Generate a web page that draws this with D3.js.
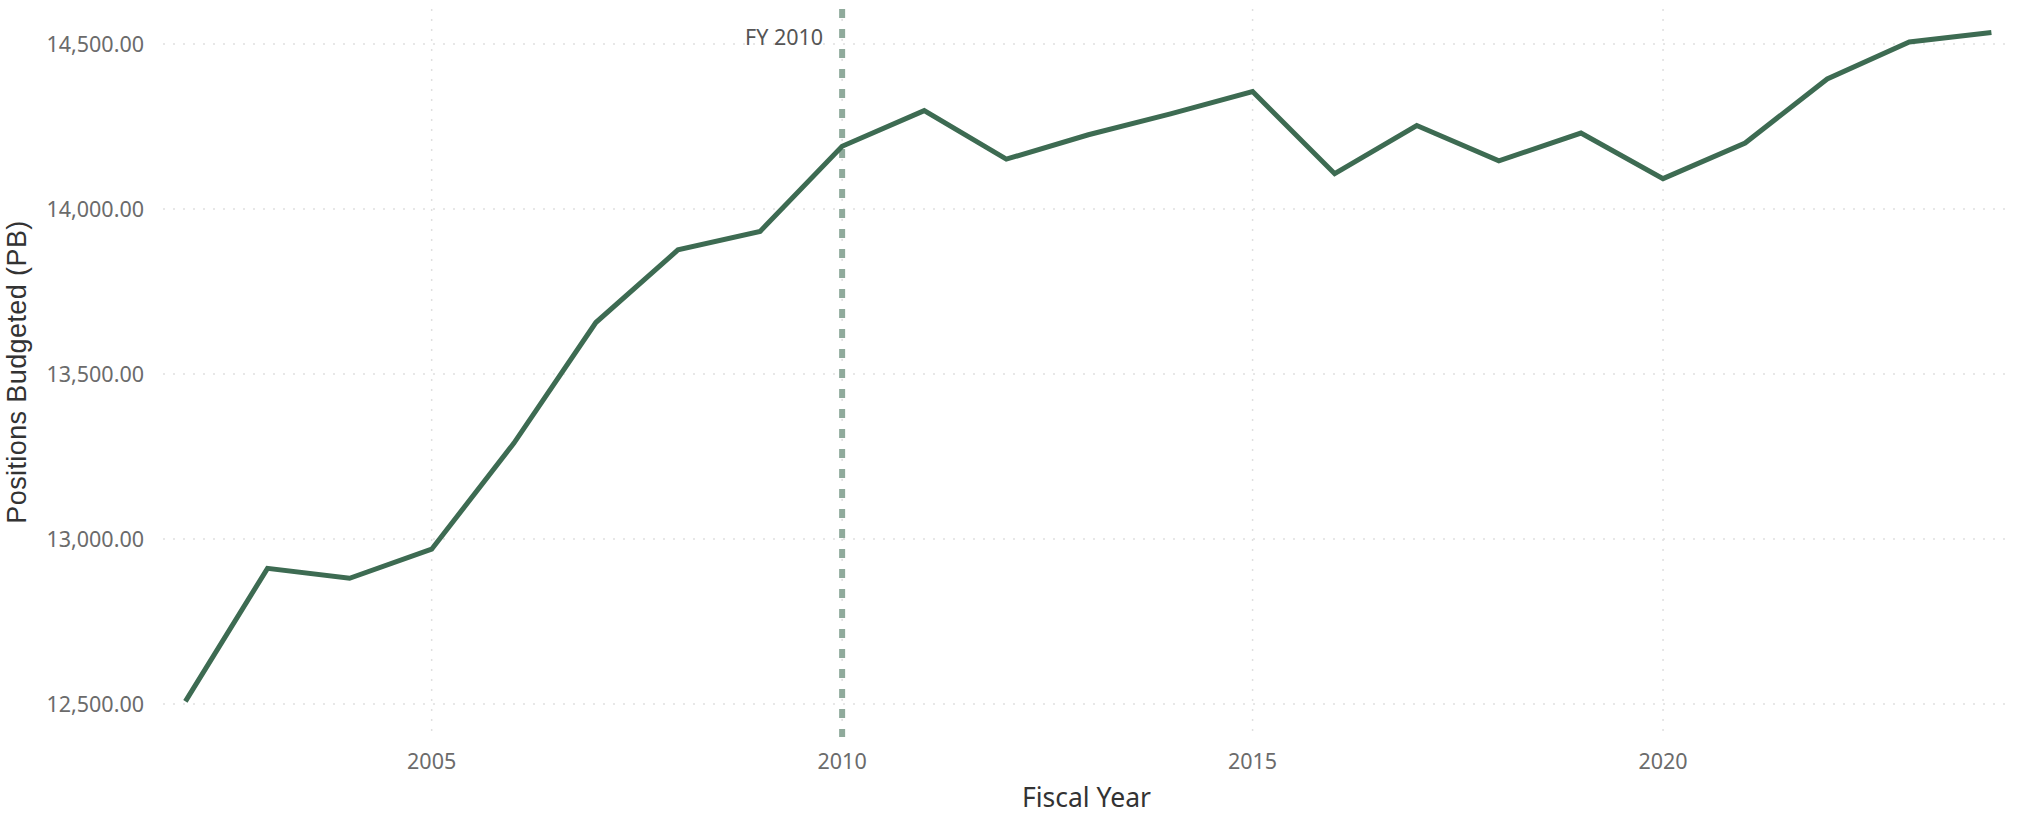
<!DOCTYPE html>
<html>
<head>
<meta charset="utf-8">
<script src="https://cdn.jsdelivr.net/npm/d3@7"></script>
<style>
  html, body { margin: 0; padding: 0; background: #fff; }
  svg { display: block; }
</style>
</head>
<body>
<svg id="chart" width="2023" height="822"></svg>
<script>
const years = [2002,2003,2004,2005,2006,2007,2008,2009,2010,2011,2012,2013,2014,2015,2016,2017,2018,2019,2020,2021,2022,2023,2024];
const positions = [12508,12911,12881,12969,13290,13656,13876,13932,14190,14298,14151,14225,14288,14356,14107,14253,14146,14230,14092,14200,14394,14506,14535];
const yTicks = [12500,13000,13500,14000,14500];
const xTicks = [2005,2010,2015,2020];
const refYear = 2010;
const refLabel = "FY 2010";
const xTitle = "Fiscal Year";
const yTitle = "Positions Budgeted (PB)";

const svg = d3.select("#chart");
const plotTop = 9, plotBottom = 737, plotLeft = 163, plotRight = 2010;

const x = d3.scaleLinear().domain([2002, 2024]).range([185.4, 1991.4]);
const y = d3.scaleLinear().domain([12400, 14606]).range([plotBottom, plotTop]);

// horizontal gridlines
svg.append("g").selectAll("line").data(yTicks).join("line")
  .attr("x1", plotLeft).attr("x2", plotRight)
  .attr("y1", d => y(d)).attr("y2", d => y(d))
  .attr("stroke", "#e0e0e0").attr("stroke-width", 1.5)
  .attr("stroke-dasharray", "2,8");

// vertical gridlines
svg.append("g").selectAll("line").data(xTicks).join("line")
  .attr("x1", d => x(d)).attr("x2", d => x(d))
  .attr("y1", plotTop).attr("y2", plotBottom)
  .attr("stroke", "#e0e0e0").attr("stroke-width", 1.5)
  .attr("stroke-dasharray", "2,8");

// y axis labels
const fmt = d3.format(",.2f");
svg.append("g").selectAll("text").data(yTicks).join("text")
  .attr("x", 144).attr("y", d => y(d))
  .attr("text-anchor", "end").attr("dominant-baseline", "central")
  .attr("font-family", "'Noto Sans', sans-serif").attr("font-size", 21.5)
  .attr("fill", "#6b6b6b")
  .text(d => fmt(d));

// x axis labels
svg.append("g").selectAll("text").data(xTicks).join("text")
  .attr("x", d => x(d)).attr("y", 760)
  .attr("text-anchor", "middle").attr("dominant-baseline", "central")
  .attr("font-family", "'Noto Sans', sans-serif").attr("font-size", 21.5)
  .attr("fill", "#6b6b6b")
  .text(d => d);

// axis titles
svg.append("text")
  .attr("x", (plotLeft + plotRight) / 2).attr("y", 797)
  .attr("text-anchor", "middle").attr("dominant-baseline", "central")
  .attr("font-family", "'Noto Sans', sans-serif").attr("font-size", 26.5)
  .attr("fill", "#333")
  .text(xTitle);

svg.append("text")
  .attr("transform", "translate(17," + 372 + ") rotate(-90)")
  .attr("text-anchor", "middle").attr("dominant-baseline", "central")
  .attr("font-family", "'Liberation Sans', Arial, sans-serif").attr("font-size", 27)
  .attr("letter-spacing", 0.4)
  .attr("fill", "#333")
  .text(yTitle);

// reference line
svg.append("line")
  .attr("x1", x(refYear)).attr("x2", x(refYear))
  .attr("y1", plotTop).attr("y2", plotBottom)
  .attr("stroke", "#8faa9b").attr("stroke-width", 6)
  .attr("stroke-dasharray", "9,11");

svg.append("text")
  .attr("x", x(refYear) - 19).attr("y", 36)
  .attr("text-anchor", "end").attr("dominant-baseline", "central")
  .attr("font-family", "'Noto Sans', sans-serif").attr("font-size", 21.5)
  .attr("fill", "#555")
  .text(refLabel);

// data line
const line = d3.line().x((d, i) => x(years[i])).y(d => y(d));
svg.append("path")
  .datum(positions)
  .attr("d", line)
  .attr("fill", "none")
  .attr("stroke", "#3d6b52")
  .attr("stroke-width", 5)
  .attr("stroke-linejoin", "miter");
</script>
</body>
</html>
